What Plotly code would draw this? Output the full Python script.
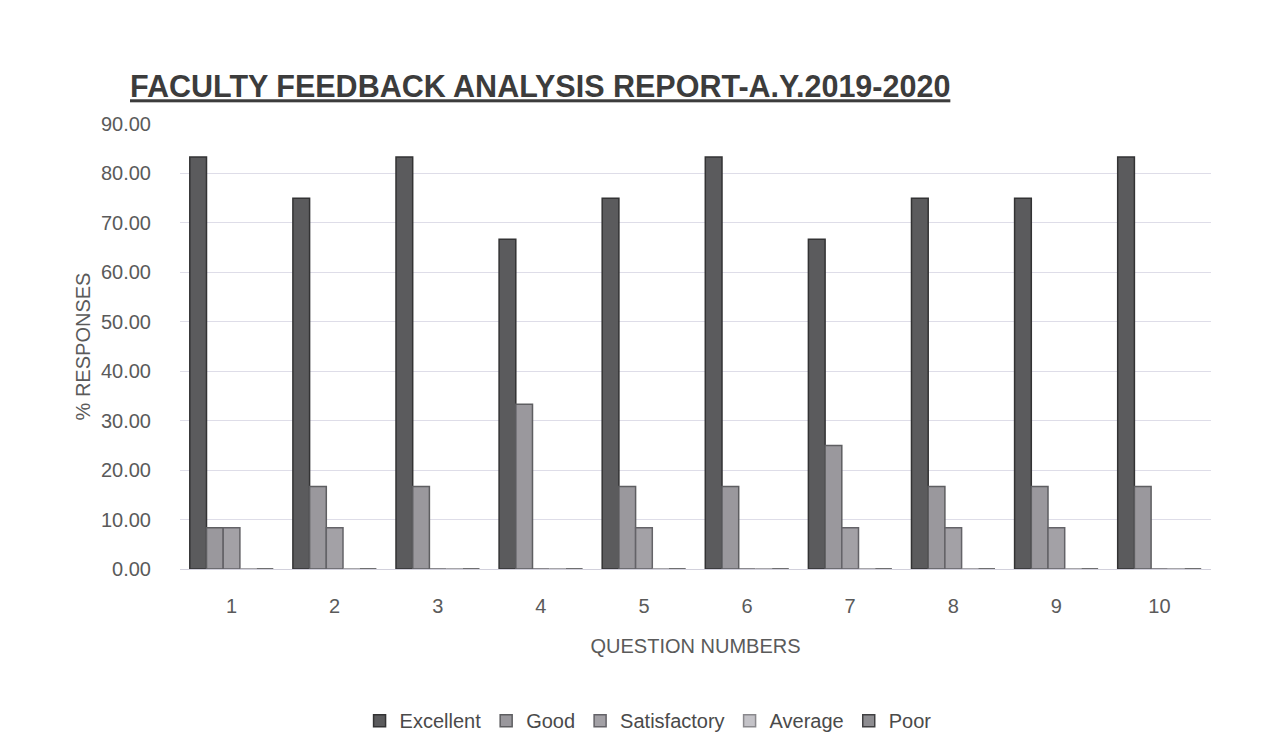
import plotly.graph_objects as go

# Question numbers on the x axis
questions = ["1", "2", "3", "4", "5", "6", "7", "8", "9", "10"]

# Percentage of responses per rating, one list per rating
excellent = [83.33, 75.00, 83.33, 66.67, 75.00, 83.33, 66.67, 75.00, 75.00, 83.33]
good = [8.33, 16.67, 16.67, 33.33, 16.67, 16.67, 25.00, 16.67, 16.67, 16.67]
satisfactory = [8.33, 8.33, 0.00, 0.00, 8.33, 0.00, 8.33, 8.33, 8.33, 0.00]
average = [0.00, 0.00, 0.00, 0.00, 0.00, 0.00, 0.00, 0.00, 0.00, 0.00]
poor = [0.00, 0.00, 0.00, 0.00, 0.00, 0.00, 0.00, 0.00, 0.00, 0.00]

series_names = ["Excellent", "Good", "Satisfactory", "Average", "Poor"]
series_values = [excellent, good, satisfactory, average, poor]
fill_colors = ["#5b5b5d", "#9a989d", "#a3a1a6", "#c4c3c8", "#8e8d91"]
edge_colors = ["#333334", "#5e5e61", "#646368", "#8a898d", "#404042"]

y_ticks = [0, 10, 20, 30, 40, 50, 60, 70, 80, 90]

FONT = "Liberation Sans, Arial, sans-serif"
tick_font = dict(family=FONT, size=20, color="#5a5a5a")

fig = go.Figure()
for name, vals, fc, ec in zip(series_names, series_values, fill_colors, edge_colors):
    fig.add_trace(go.Bar(
        name=name,
        x=questions,
        y=vals,
        marker=dict(color=fc, line=dict(color=ec, width=1.5)),
    ))

fig.update_layout(
    width=1281,
    height=753,
    paper_bgcolor="white",
    plot_bgcolor="white",
    barmode="group",
    bargap=0.19,
    bargroupgap=0.0,
    margin=dict(l=180, r=70, t=124, b=184),
    title=dict(
        text="<u>FACULTY FEEDBACK ANALYSIS REPORT-A.Y.2019-2020</u>",
        font=dict(family=FONT, size=30.5, color="#3c3c3c", weight="bold"),
        x=0.1015, xanchor="left",
        y=0.885, yanchor="middle",
    ),
    xaxis=dict(
        title=dict(text="QUESTION NUMBERS", font=dict(family=FONT, size=20, color="#5a5a5a"), standoff=22),
        tickfont=tick_font,
        showgrid=False,
        showline=False,
        ticks="",
        ticklabelstandoff=23,
    ),
    yaxis=dict(
        title=dict(text="% RESPONSES", font=dict(family=FONT, size=20, color="#5a5a5a"), standoff=4),
        range=[0, 90],
        tickvals=y_ticks,
        tickformat=".2f",
        tickfont=tick_font,
        showgrid=True,
        gridcolor="#dedde8",
        gridwidth=1,
        zeroline=True,
        zerolinecolor="#d2d1dc",
        zerolinewidth=1,
        ticks="",
        ticklabelstandoff=28,
    ),
    legend=dict(
        orientation="h",
        x=0.454, xanchor="center",
        y=-0.297, yanchor="top",
        font=dict(family=FONT, size=20, color="#4a4a4a"),
        itemwidth=30,
        traceorder="normal",
    ),
)

fig.write_html("out.html")
